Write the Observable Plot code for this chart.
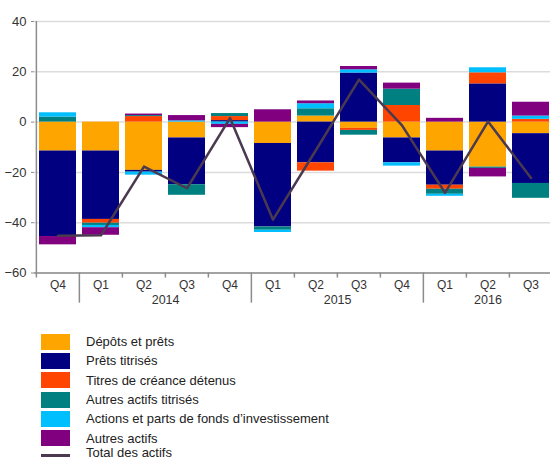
<!DOCTYPE html>
<html>
<head>
<meta charset="utf-8">
<script src="https://cdn.jsdelivr.net/npm/d3@7"></script>
<script src="https://cdn.jsdelivr.net/npm/@observablehq/plot@0.6"></script>
<style>
  html, body { margin: 0; padding: 0; background: #fff; width: 550px; height: 457px; overflow: hidden; }
  body { font-family: "Liberation Sans", Arial, sans-serif; }
  #chart svg { display: block; }
  #legend { margin-top: 22px; font-size: 13px; color: #222; }
  .row { display: flex; align-items: center; height: 19.3px; line-height: 15px; }
  .row.last { height: 15px; margin-top: -2.6px; }
  .sw { width: 29px; height: 16px; margin-left: 41px; margin-right: 16px; flex: none; }
  .ln { width: 29px; height: 15px; margin-left: 41px; margin-right: 16px; flex: none; position: relative; }
  .ln::after { content: ""; position: absolute; left: 0; right: 0; top: 9px; height: 3px; background: #4b3a4f; }
</style>
</head>
<body>
<div id="chart"></div>
<div id="legend"></div>
<script>
// ---- data ----
const quarters = ["2013Q4","2014Q1","2014Q2","2014Q3","2014Q4","2015Q1","2015Q2","2015Q3","2015Q4","2016Q1","2016Q2","2016Q3"];
const quarterLabels = ["Q4","Q1","Q2","Q3","Q4","Q1","Q2","Q3","Q4","Q1","Q2","Q3"];
const yearLabels = ["2014","2015","2016"];
const yTicks = [-60, -40, -20, 0, 20, 40];

const seriesNames = [
  "Dépôts et prêts",
  "Prêts titrisés",
  "Titres de créance détenus",
  "Autres actifs titrisés",
  "Actions et parts de fonds d’investissement",
  "Autres actifs"
];
const totalName = "Total des actifs";
const colors = ["#ffa500", "#000080", "#ff4500", "#008080", "#00bfff", "#800080"];
const totalColor = "#4b3a4f";

const depotsPrets      = [-11.5, -11.5, -19.2,  -6.3,  0.0,  -8.5,   2.4,  -2.5,  -6.3, -11.5, -17.9,  -4.6];
const pretsTitrises    = [-34.0, -27.2,  -0.7, -18.6,  0.6, -33.2, -16.2,  19.5,  -9.9, -13.6,  15.2, -19.8];
const titresCreance    = [  0.0,  -1.5,   2.2,   0.0,  1.6,   0.0,  -3.3,  -0.8,   6.6,  -1.6,   4.4,   1.1];
const autresTitrises   = [  2.0,  -0.9,   0.4,  -4.2,  1.2,  -1.3,   2.9,  -1.9,   6.5,  -2.0,  -0.5,  -5.9];
const actionsFonds     = [  1.7,  -0.9,  -1.2,   0.5, -0.9,  -0.9,   2.0,   1.3,  -1.3,  -0.8,   2.0,   1.3];
const autresActifs     = [ -3.3,  -3.0,   0.6,   2.1, -1.3,   4.9,   1.1,   1.3,   2.4,   1.5,  -3.4,   5.5];
const totalActifs      = [-45.2, -45.0, -17.7, -26.3,  1.6, -38.8, -11.1,  16.9,  -1.3, -28.1,   0.2, -22.2];

const seriesValues = [depotsPrets, pretsTitrises, titresCreance, autresTitrises, actionsFonds, autresActifs];

// ---- tables built from the arrays ----
const rows = [];
seriesValues.forEach((vals, s) => {
  vals.forEach((v, i) => rows.push({quarter: quarters[i], series: seriesNames[s], value: v}));
});
const totalRows = totalActifs.map((v, i) => ({quarter: quarters[i], value: v}));
const labelRows = quarters.map((q, i) => ({quarter: q, label: quarterLabels[i]}));
const boundaryRows = quarters.map((q, i) => ({quarter: q, year: q.endsWith("Q1")}));

// ---- layout ----
const W = 550, H = 310, mL = 34, mR = -3, mT = 21, mB = 37.5;
const half = (W - mL - mR) / quarters.length / 2;
const axisColor = "#8c8c8c";
const textColor = "#333";

const chart = Plot.plot({
  width: W, height: H,
  marginLeft: mL, marginRight: mR, marginTop: mT, marginBottom: mB,
  style: {fontFamily: '"Liberation Sans", Arial, sans-serif', background: "#fff", overflow: "visible"},
  x: {type: "band", domain: quarters, paddingInner: 0.14, paddingOuter: 0.07, axis: null, label: null},
  y: {domain: [-60, 40], axis: null, label: null},
  color: {domain: seriesNames, range: colors},
  marks: [
    Plot.gridY(yTicks, {stroke: "#dcdcdc", strokeOpacity: 1, strokeWidth: 1.5}),
    Plot.barY(rows, {x: "quarter", y: "value", fill: "series", order: seriesNames}),
    Plot.line(totalRows, {x: "quarter", y: "value", stroke: totalColor, strokeWidth: 2.5}),
    Plot.ruleY([-60], {stroke: axisColor, strokeWidth: 1.5}),
    // y axis line
    Plot.ruleX([quarters[0]], {x: d => d, y1: 40, y2: -62, dx: -half, stroke: axisColor, strokeWidth: 1.5}),
    // quarter separators (long at year boundaries)
    Plot.ruleX(boundaryRows.filter((d, i) => i > 0), {
      x: "quarter", y1: -60, y2: d => d.year ? -72 : -62, dx: -half, stroke: axisColor, strokeWidth: 1.5
    }),
    Plot.axisY(yTicks, {tickSize: 3, tickPadding: 5, stroke: axisColor, fill: textColor, fontSize: 13, label: null}),
    Plot.text(labelRows, {x: "quarter", y: -60, text: "label", dy: 12.5, fontSize: 12, fill: textColor}),
    Plot.text([yearLabels[0], yearLabels[1]], {x: (d, i) => quarters[[2, 6][i]], y: -60, dy: 26.5, dx: half, fontSize: 12.5, fill: textColor}),
    Plot.text([yearLabels[2]], {x: () => quarters[10], y: -60, dy: 26.5, fontSize: 12.5, fill: textColor})
  ]
});
document.getElementById("chart").appendChild(chart);

// ---- legend ----
const legend = document.getElementById("legend");
seriesNames.forEach((name, i) => {
  const row = document.createElement("div");
  row.className = "row";
  const sw = document.createElement("span");
  sw.className = "sw";
  sw.style.background = colors[i];
  const t = document.createElement("span");
  t.textContent = name;
  row.appendChild(sw); row.appendChild(t);
  legend.appendChild(row);
});
{
  const row = document.createElement("div");
  row.className = "row last";
  const sw = document.createElement("span");
  sw.className = "ln";
  const t = document.createElement("span");
  t.textContent = totalName;
  row.appendChild(sw); row.appendChild(t);
  legend.appendChild(row);
}
</script>
</body>
</html>
